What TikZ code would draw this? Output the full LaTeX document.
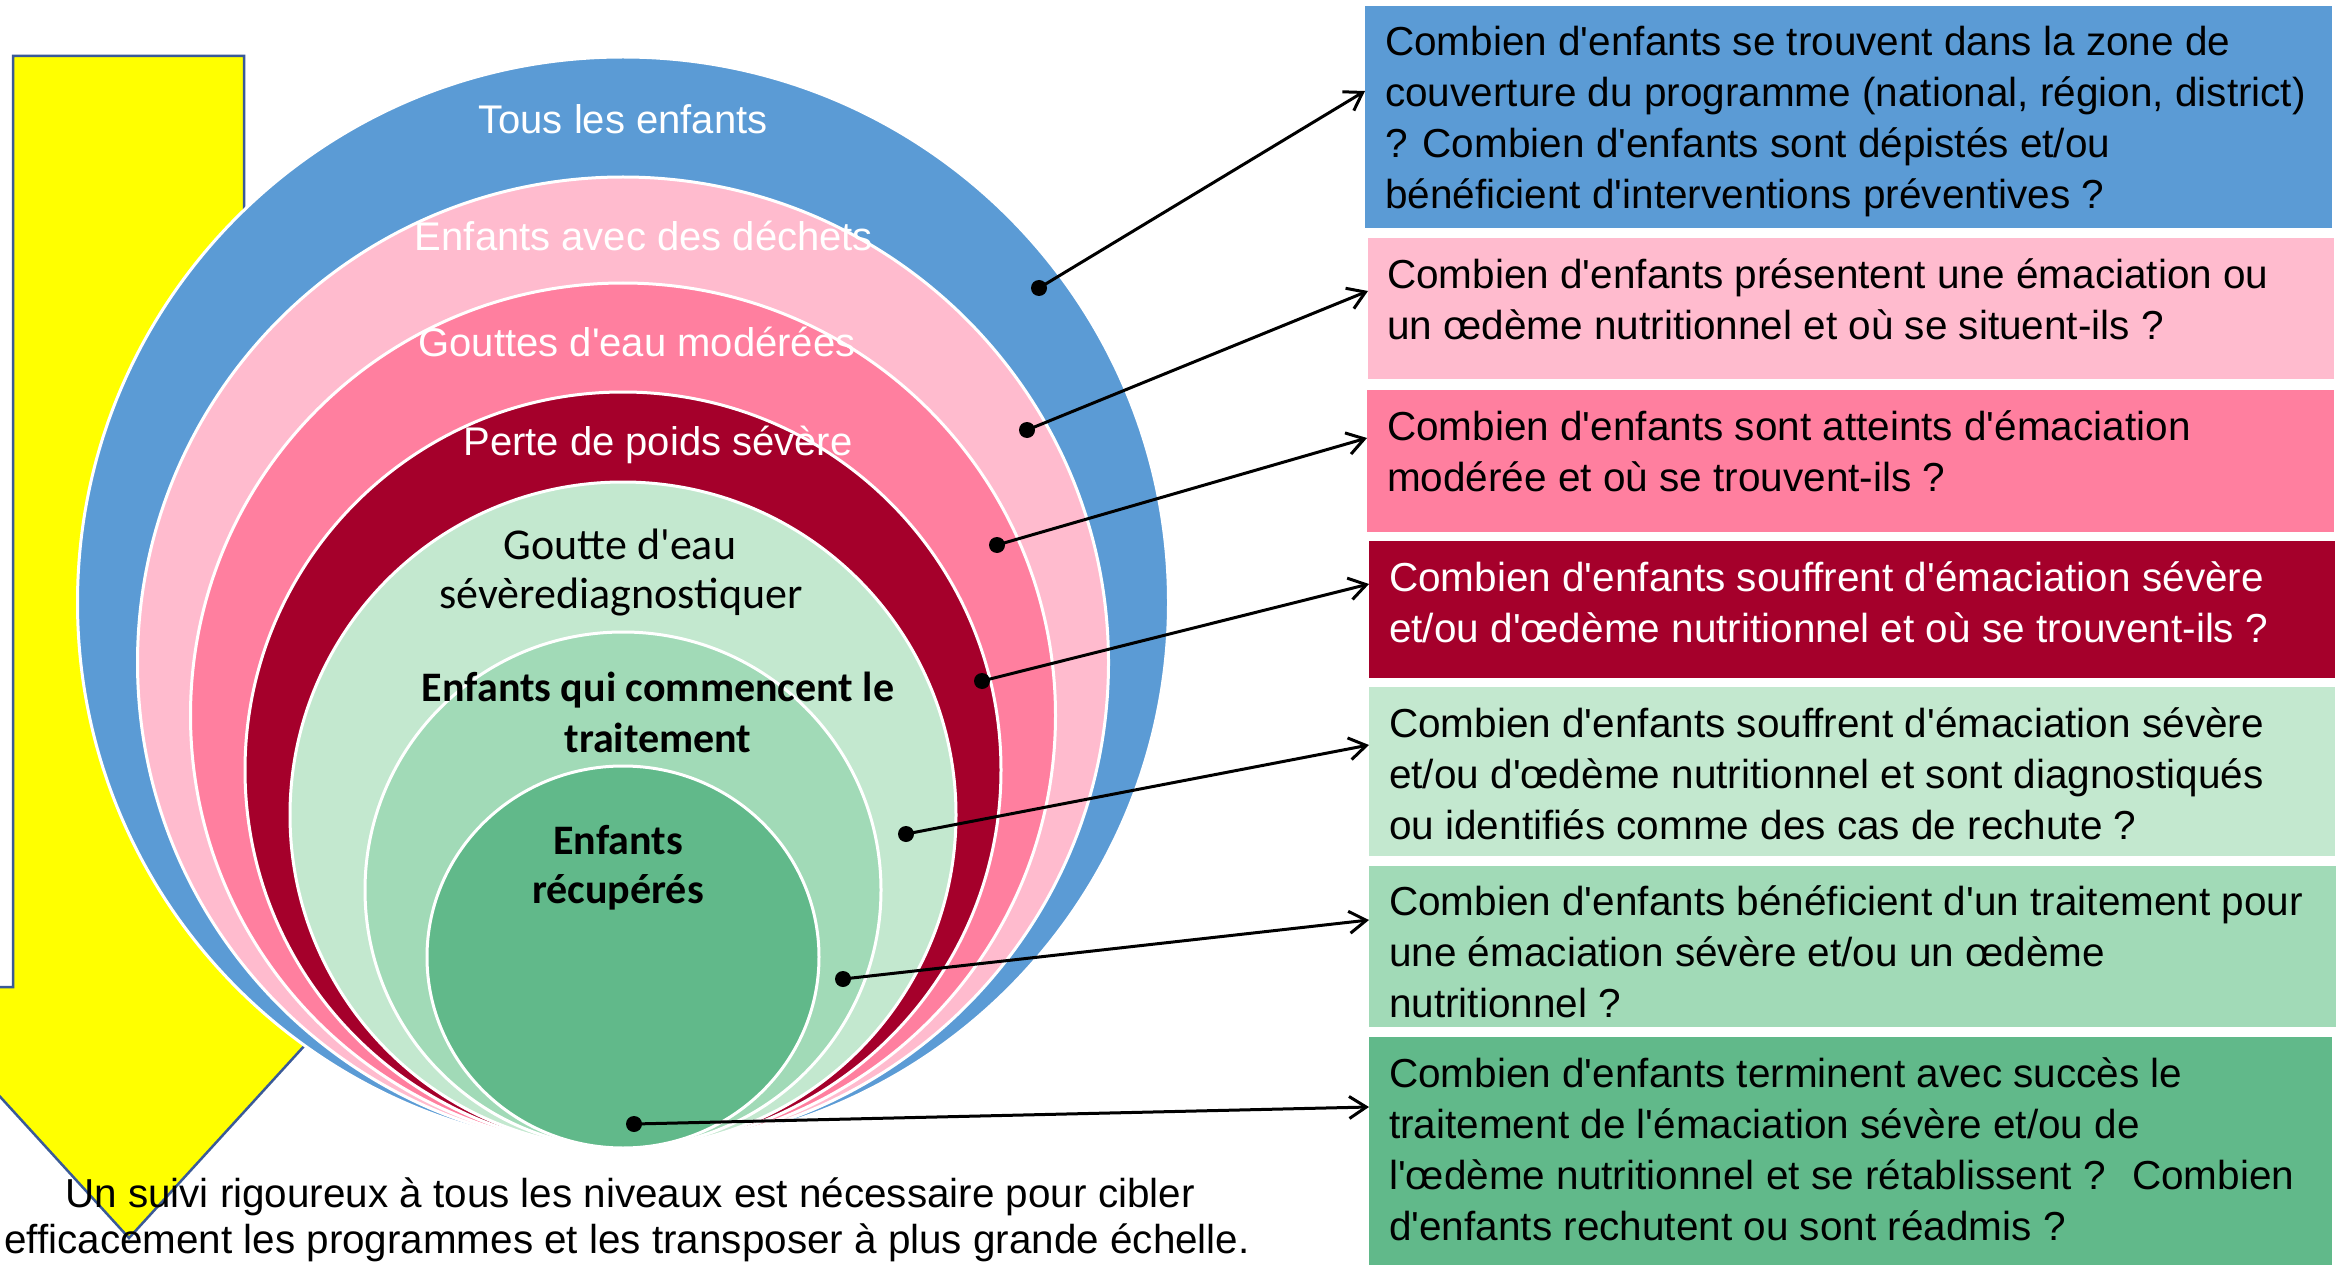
\documentclass[tikz,border=0pt]{standalone}
\usepackage{fontspec}
\setmainfont{Liberation Sans}[Ligatures=TeXOff]
\newfontfamily\carlito{Carlito}[Ligatures=TeXOff]
\usetikzlibrary{arrows.meta}
\definecolor{cblue}{HTML}{5B9BD5}
\definecolor{cpink}{HTML}{FFBBCE}
\definecolor{cmpink}{HTML}{FF7F9F}
\definecolor{cred}{HTML}{A5002B}
\definecolor{cgreenA}{HTML}{C3E8CF}
\definecolor{cgreenB}{HTML}{A1DAB7}
\definecolor{cgreenC}{HTML}{61B98A}
\definecolor{arrowedge}{HTML}{3A5A98}
\definecolor{cyellow}{HTML}{FFFF00}
\begin{document}
\begin{tikzpicture}[x=1pt,y=-1pt,
  ring/.style={draw=white, line width=3pt},
  qbox/.style={rectangle, inner sep=0pt, anchor=north west},
  qtext/.style={anchor=north west, inner sep=0pt, align=left, font=\fontsize{40.5}{51}\selectfont},
  wlabel/.style={anchor=base, inner sep=0pt, text=white, font=\fontsize{40}{48}\selectfont},
  klabel/.style={anchor=base, inner sep=0pt, font=\carlito\fontsize{44}{49}\selectfont},
  blabel/.style={anchor=base, inner sep=0pt, font=\carlito\bfseries\fontsize{42}{50}\selectfont},
  flabel/.style={anchor=base, inner sep=0pt, font=\fontsize{40.4}{46}\selectfont},
  ptdot/.style={circle, fill=black, inner sep=0pt, minimum size=16pt},
  conn/.style={line width=3pt, -{Straight Barb[length=17pt,width=22pt]}},
]
\useasboundingbox (0,0) rectangle (2346,1265);
\begin{scope}
\clip (0,0) rectangle (2346,1265);
\fill[white] (0,0) rectangle (2346,1265);
% yellow arrow
\draw[draw=arrowedge, line width=2.5pt, fill=cyellow, line join=miter]
  (13,56) -- (244,56) -- (244,987) -- (358,987) -- (129,1238) -- (-100,987) -- (13,987) -- cycle;
% nested rings
\draw[ring, fill=cblue]   (623,602.5) circle [radius=545.5];
\draw[ring, fill=cpink]   (623,662.5) circle [radius=485.5];
\draw[ring, fill=cmpink]  (623,715.5) circle [radius=432.5];
\draw[ring, fill=cred]    (623,770)   circle [radius=378];
\draw[ring, fill=cgreenA] (623,815)   circle [radius=333];
\draw[ring, fill=cgreenB] (623,890)   circle [radius=258];
\draw[ring, fill=cgreenC] (623,957)   ellipse [x radius=196, y radius=191];
% ring labels
\node[wlabel] (l1) at (623,134) {Tous les enfants};
\node[wlabel] (l2) at (644,251) {Enfants avec des déchets};
\node[wlabel] (l3) at (637,356) {Gouttes d'eau modérées};
\node[wlabel] (l4) at (658,455) {Perte de poids sévère};
\node[klabel] (l5a) at (620,559) {Goutte d'eau};
\node[klabel] (l5b) at (621,608) {sévèrediagnostiquer};
\node[blabel] (l6a) at (658,701) {Enfants qui commencent le};
\node[blabel] (l6b) at (658,752) {traitement};
\node[blabel] (l7a) at (618,854) {Enfants};
\node[blabel] (l7b) at (618,903) {récupérés};
% footer
\node[flabel] (f1) at (630,1207) {Un suivi rigoureux à tous les niveaux est nécessaire pour cibler};
\node[flabel] (f2) at (627,1253) {efficacement les programmes et les transposer à plus grande échelle.};
% boxes
\node[qbox, fill=cblue,   minimum width=967pt, minimum height=222pt] (b1) at (1365,6) {};
\node[qbox, fill=cpink,   minimum width=966pt, minimum height=141pt] (b2) at (1368,238) {};
\node[qbox, fill=cmpink,  minimum width=967pt, minimum height=142pt] (b3) at (1367,390) {};
\node[qbox, fill=cred,    minimum width=966pt, minimum height=137pt] (b4) at (1369,541) {};
\node[qbox, fill=cgreenA, minimum width=966pt, minimum height=169pt] (b5) at (1369,687) {};
\node[qbox, fill=cgreenB, minimum width=967pt, minimum height=161pt] (b6) at (1369,866) {};
\node[qbox, fill=cgreenC, minimum width=963pt, minimum height=230pt] (b7) at (1369,1037) {};
% box texts
\node[qtext] (t1) at (1385,19.3) {\strut Combien d'enfants se trouvent dans la zone de\\couverture du programme (national, région, district)\\? Combien d'enfants sont dépistés et/ou\\bénéficient d'interventions préventives ?};
\node[qtext] (t2) at (1387,252.3) {\strut Combien d'enfants présentent une émaciation ou\\un œdème nutritionnel et où se situent-ils ?};
\node[qtext] (t3) at (1387,404.3) {\strut Combien d'enfants sont atteints d'émaciation\\modérée et où se trouvent-ils ?};
\node[qtext, text=white] (t4) at (1389,555.3) {\strut Combien d'enfants souffrent d'émaciation sévère\\et/ou d'œdème nutritionnel et où se trouvent-ils ?};
\node[qtext] (t5) at (1389,701.3) {\strut Combien d'enfants souffrent d'émaciation sévère\\et/ou d'œdème nutritionnel et sont diagnostiqués\\ou identifiés comme des cas de rechute ?};
\node[qtext] (t6) at (1389,879.3) {\strut Combien d'enfants bénéficient d'un traitement pour\\une émaciation sévère et/ou un œdème\\nutritionnel ?};
\node[qtext] (t7) at (1389,1051.3) {\strut Combien d'enfants terminent avec succès le\\traitement de l'émaciation sévère et/ou de\\l'œdème nutritionnel et se rétablissent ?~ Combien\\d'enfants rechutent ou sont réadmis ?};
% dots and connectors
\node[ptdot] (d1) at (1039,288) {};
\node[ptdot] (d2) at (1027,430) {};
\node[ptdot] (d3) at (997,545) {};
\node[ptdot] (d4) at (982,681) {};
\node[ptdot] (d5) at (906,834) {};
\node[ptdot] (d6) at (843,979) {};
\node[ptdot] (d7) at (634,1124) {};
\draw[conn] (d1.center) -- (b1.west |- 0,91);
\draw[conn] (d2.center) -- (b2.west |- 0,291);
\draw[conn] (d3.center) -- (b3.west |- 0,438);
\draw[conn] (d4.center) -- (b4.west |- 0,584);
\draw[conn] (d5.center) -- (b5.west |- 0,745);
\draw[conn] (d6.center) -- (b6.west |- 0,920);
\draw[conn] (d7.center) -- (b7.west |- 0,1107);
\end{scope}
\end{tikzpicture}
\end{document}
